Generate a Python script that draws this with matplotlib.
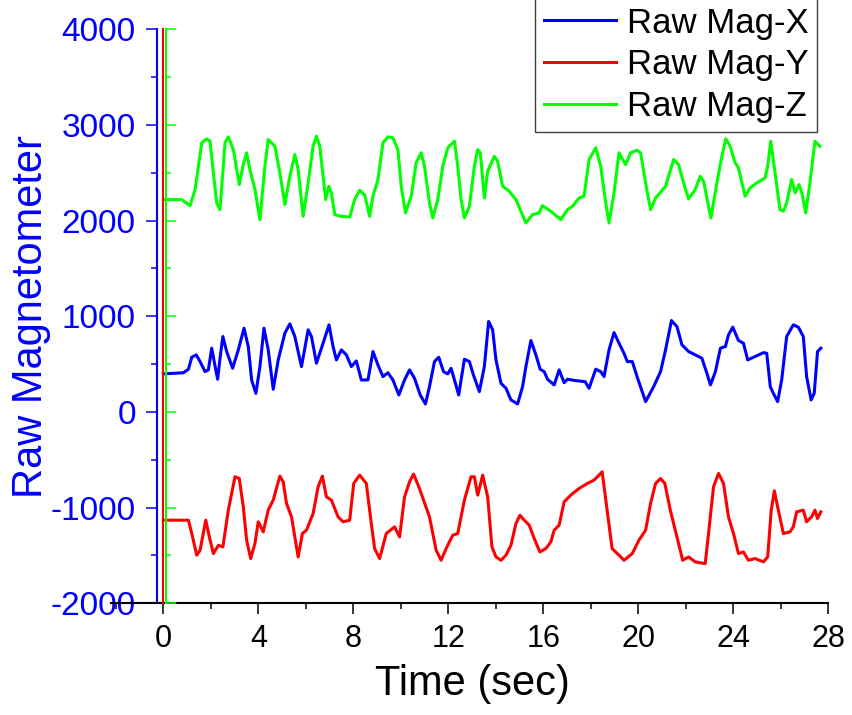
import numpy as np
import matplotlib
matplotlib.use("Agg")
import matplotlib.pyplot as plt
from matplotlib.ticker import MultipleLocator

plt.rcParams['font.family'] = ['Liberation Sans', 'DejaVu Sans']
plt.rcParams['axes.unicode_minus'] = False

# Raw Mag-X (blue)
time_x = [0, 0.85, 1.06, 1.20, 1.39, 1.55, 1.76, 1.90, 2.04, 2.18, 2.29, 2.39, 2.51, 2.67, 2.92,
          3.16, 3.40, 3.58, 3.72, 3.90, 4.07, 4.24, 4.42, 4.63, 4.84, 5.12, 5.33, 5.54, 5.82,
          6.10, 6.24, 6.45, 6.73, 6.98, 7.15, 7.29, 7.50, 7.71, 7.92, 8.13, 8.34, 8.62, 8.83,
          9.04, 9.25, 9.46, 9.67, 9.92, 10.16, 10.37, 10.58, 10.82, 11.04, 11.21, 11.42, 11.60,
          11.80, 11.98, 12.12, 12.26, 12.44, 12.68, 12.89, 13.06, 13.31, 13.52, 13.70, 13.87,
          14.01, 14.22, 14.43, 14.64, 14.92, 15.13, 15.27, 15.48, 15.69, 15.87, 16.04, 16.18,
          16.46, 16.67, 16.88, 17.02, 17.36, 17.76, 17.93, 18.21, 18.42, 18.56, 18.77, 18.98,
          19.19, 19.40, 19.54, 19.75, 19.95, 20.31, 20.65, 20.94, 21.15, 21.40, 21.63, 21.84,
          22.12, 22.40, 22.68, 22.89, 23.04, 23.25, 23.46, 23.67, 23.80, 23.98, 24.22, 24.43,
          24.61, 24.92, 25.27, 25.41, 25.56, 25.69, 25.87, 26.04, 26.25, 26.53, 26.74, 26.95,
          27.09, 27.28, 27.41, 27.55, 27.69]
mag_x = [398, 410, 447, 572, 597, 527, 422, 440, 667, 480, 342, 562, 789, 632, 457,
         649, 876, 684, 335, 195, 474, 876, 649, 237, 544, 824, 921, 789, 474,
         859, 789, 510, 719, 911, 684, 544, 649, 597, 474, 534, 335, 335, 632,
         492, 370, 410, 335, 178, 335, 440, 352, 178, 84, 265, 527, 572,
         422, 398, 457, 335, 178, 551, 527, 387, 213, 474, 946, 859,
         544, 300, 248, 126, 84, 265, 474, 747, 597, 447, 422, 342,
         283, 440, 306, 342, 328, 317, 248, 447, 422, 370, 649, 830,
         719, 614, 527, 527, 370, 108, 265, 422, 649, 956, 893, 702,
         632, 597, 562, 405, 283, 422, 667, 684, 806, 887, 747, 719,
         544, 580, 620, 614, 265, 195, 108, 335, 789, 911, 887, 789,
         370, 126, 195, 632, 667]

# Raw Mag-Y (red)
time_y = [0, 1.06, 1.20, 1.41, 1.55, 1.79, 1.94, 2.11, 2.32, 2.51, 2.74, 3.02, 3.20, 3.37, 3.51,
          3.68, 3.86, 4.00, 4.21, 4.42, 4.63, 4.91, 5.05, 5.19, 5.40, 5.68, 5.86, 6.03, 6.31,
          6.52, 6.70, 6.87, 7.08, 7.36, 7.57, 7.85, 8.02, 8.27, 8.55, 8.76, 8.90, 9.11, 9.39,
          9.74, 9.95, 10.16, 10.37, 10.54, 10.76, 10.96, 11.21, 11.49, 11.70, 11.91, 12.19,
          12.40, 12.68, 12.96, 13.10, 13.24, 13.45, 13.66, 13.84, 14.01, 14.22, 14.43, 14.64,
          14.85, 15.02, 15.20, 15.41, 15.62, 15.86, 16.11, 16.32, 16.46, 16.67, 16.88, 17.16,
          17.51, 17.86, 18.14, 18.35, 18.48, 18.69, 18.90, 19.19, 19.40, 19.75, 20.03, 20.31,
          20.52, 20.73, 20.94, 21.12, 21.35, 21.63, 21.87, 22.12, 22.40, 22.82, 22.96, 23.17,
          23.38, 23.59, 23.80, 24.01, 24.22, 24.43, 24.64, 24.92, 25.27, 25.45, 25.60, 25.73,
          25.90, 26.11, 26.39, 26.53, 26.67, 26.95, 27.09, 27.30, 27.44, 27.55, 27.69]
mag_y = [-1131, -1131, -1270, -1497, -1445, -1131, -1306, -1480, -1393, -1410, -1026, -677, -695, -991, -1340,
         -1532, -1375, -1148, -1253, -1026, -921, -670, -730, -956, -1096, -1515, -1270, -1236, -1061,
         -782, -670, -887, -921, -1096, -1148, -1131, -747, -660, -747, -1166, -1428, -1532, -1270,
         -1201, -1306, -887, -730, -649, -782, -921, -1096, -1445, -1550, -1428, -1288,
         -1270, -921, -677, -677, -869, -660, -887, -1410, -1515, -1550, -1497, -1393,
         -1166, -1079, -1131, -1183, -1323, -1463, -1428, -1358, -1236, -1183, -939, -869,
         -799, -747, -712, -660, -625, -1026, -1428, -1497, -1550, -1480, -1340, -1236,
         -956, -747, -695, -747, -1026, -1306, -1550, -1515, -1567, -1585, -1270, -782,
         -642, -747, -1096, -1270, -1480, -1463, -1550, -1532, -1567, -1515, -1026, -824,
         -1026, -1270, -1253, -1201, -1044, -1026, -1148, -1096, -1026, -1113, -1044]

# Raw Mag-Z (green)
time_z = [0, 0.78, 1.13, 1.34, 1.62, 1.83, 1.97, 2.11, 2.25, 2.39, 2.60, 2.74, 2.95, 3.20, 3.37,
          3.51, 3.65, 3.86, 4.07, 4.28, 4.42, 4.70, 4.91, 5.12, 5.33, 5.54, 5.68, 5.89, 6.10,
          6.31, 6.45, 6.59, 6.73, 6.84, 6.97, 7.08, 7.22, 7.50, 7.85, 8.06, 8.27, 8.48, 8.69,
          8.83, 9.04, 9.25, 9.46, 9.67, 9.88, 10.02, 10.20, 10.44, 10.65, 10.86, 11.00, 11.21,
          11.35, 11.56, 11.77, 11.98, 12.26, 12.40, 12.54, 12.68, 12.89, 13.10, 13.24, 13.35,
          13.52, 13.66, 13.94, 14.08, 14.29, 14.57, 14.85, 15.27, 15.55, 15.83, 15.96, 16.32,
          16.74, 17.02, 17.23, 17.51, 17.72, 17.93, 18.21, 18.42, 18.63, 18.77, 18.98, 19.19,
          19.47, 19.68, 19.95, 20.10, 20.31, 20.52, 20.73, 21.15, 21.49, 21.70, 21.91, 22.12,
          22.40, 22.61, 22.75, 22.96, 23.06, 23.31, 23.52, 23.69, 23.87, 24.08, 24.22, 24.50,
          24.71, 24.99, 25.34, 25.45, 25.58, 25.76, 25.97, 26.11, 26.25, 26.46, 26.61, 26.77,
          26.89, 27.05, 27.23, 27.44, 27.65]
mag_z = [2220, 2220, 2157, 2325, 2813, 2855, 2830, 2500, 2185, 2115, 2813, 2876, 2743, 2377, 2586,
         2709, 2534, 2325, 2010, 2569, 2848, 2778, 2499, 2168, 2464, 2691, 2534, 2045, 2394,
         2778, 2883, 2778, 2464, 2220, 2359, 2290, 2063, 2045, 2038, 2220, 2317, 2270, 2045,
         2255, 2430, 2813, 2876, 2866, 2743, 2359, 2080, 2255, 2604, 2709, 2569, 2185,
         2028, 2220, 2569, 2761, 2830, 2569, 2220, 2028, 2150, 2569, 2743, 2709,
         2237, 2516, 2673, 2620, 2359, 2307, 2220, 1976, 2063, 2080, 2157, 2098,
         2010, 2115, 2150, 2237, 2255, 2639, 2761, 2569, 2185, 1976, 2290, 2709,
         2586, 2709, 2736, 2709, 2394, 2115, 2237, 2359, 2639, 2586, 2394, 2227,
         2325, 2464, 2412, 2150, 2028, 2394, 2673, 2855, 2778, 2604, 2552, 2255,
         2342, 2394, 2447, 2569, 2830, 2499, 2115, 2098, 2185, 2430, 2290, 2377,
         2290, 2080, 2394, 2830, 2778]

labels = ['Raw Mag-X', 'Raw Mag-Y', 'Raw Mag-Z']
colors = ['#0000ff', '#ff0000', '#00ff00']

fig = plt.figure(figsize=(8.52, 7.15), dpi=100)
rect = [0.1303, 0.1562, 0.8418, 0.8028]
ax = fig.add_axes(rect)

ax.plot(time_x, mag_x, color=colors[0], lw=2.2, label=labels[0], solid_joinstyle='round')
ax.plot(time_y, mag_y, color=colors[1], lw=2.2, label=labels[1], solid_joinstyle='round')
ax.plot(time_z, mag_z, color=colors[2], lw=2.2, label=labels[2], solid_joinstyle='round')

ax.set_xlim(-2.2, 28)
ax.set_ylim(-2000, 4000)

ax.spines['top'].set_visible(False)
ax.spines['right'].set_visible(False)
ax.spines['bottom'].set_linewidth(1.5)
ax.spines['left'].set_position(('data', -0.28))
ax.spines['left'].set_color(colors[0])
ax.spines['left'].set_linewidth(1.5)

ax.xaxis.set_major_locator(MultipleLocator(4))
ax.xaxis.set_minor_locator(MultipleLocator(2))
ax.yaxis.set_major_locator(MultipleLocator(1000))
ax.yaxis.set_minor_locator(MultipleLocator(500))
ax.set_xticks([0, 4, 8, 12, 16, 20, 24, 28])

ax.tick_params(axis='x', which='major', direction='out', length=8, width=1.1, labelsize=22, pad=7)
ax.tick_params(axis='x', which='minor', direction='out', length=4.3, width=1.1)
ax.tick_params(axis='y', which='major', direction='out', length=8, width=1.1, colors=colors[0],
               labelsize=24, pad=7)
ax.tick_params(axis='y', which='minor', direction='out', length=4, width=1.1, colors=colors[0])

ax.set_xlabel('Time (sec)', fontsize=30)
ax.xaxis.set_label_coords(0.5033, -0.105)
ax.set_ylabel('Raw Magnetometer', fontsize=30, color=colors[0])
ax.yaxis.set_label_coords(-0.0841, 0.5)

# extra offset y axes (red and green), no labels
for col, xpos, direc in [(colors[1], 0.0, 'inout'), (colors[2], 0.13, 'in')]:
    a = fig.add_axes(rect, sharex=ax, sharey=ax)
    a.patch.set_visible(False)
    for s in ['top', 'right', 'bottom']:
        a.spines[s].set_visible(False)
    a.spines['left'].set_position(('data', xpos))
    a.spines['left'].set_color(col)
    a.spines['left'].set_linewidth(1.5)
    a.xaxis.set_visible(False)
    if direc == 'in':
        a.tick_params(axis='y', which='major', direction='in', length=7.5, width=1.1, colors=col, labelleft=False)
        a.tick_params(axis='y', which='minor', direction='in', length=3.8, width=1.1, colors=col, labelleft=False)
    else:
        a.tick_params(axis='y', which='both', direction='inout', length=2, width=1.1, colors=col, labelleft=False)

leg = ax.legend(loc='upper right', bbox_to_anchor=(817 / 852, 1.003), bbox_transform=fig.transFigure,
                fontsize=25, frameon=True, fancybox=False, framealpha=1, edgecolor='#404040',
                handlelength=2.08, handletextpad=0.3, borderpad=0.25, labelspacing=0.25,
                borderaxespad=0)
leg.get_frame().set_linewidth(1.0)
for line in leg.get_lines():
    line.set_linewidth(2.2)

fig.savefig('out.png', dpi=100)
